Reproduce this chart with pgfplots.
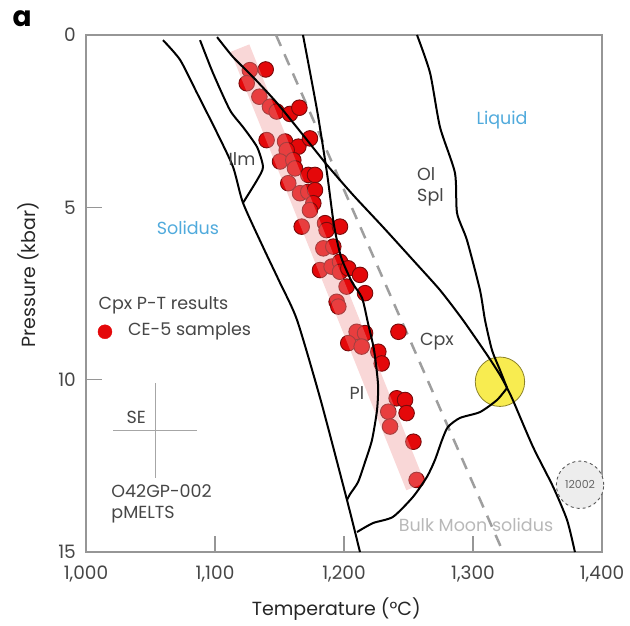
\documentclass[border=0pt]{standalone}
\usepackage{pgfplots}
\pgfplotsset{compat=1.18}
\usepackage{fontspec}
\setmainfont{Poppins}
\definecolor{axgray}{RGB}{150,150,150}
\definecolor{txtgray}{RGB}{70,70,70}
\definecolor{ptred}{RGB}{228,8,10}
\definecolor{ptedge}{RGB}{120,10,10}
\definecolor{bandpink}{RGB}{240,150,150}
\definecolor{lblue}{RGB}{80,170,220}
\definecolor{ylw}{RGB}{248,236,80}
\definecolor{ylwedge}{RGB}{140,130,40}
\begin{document}
\begin{tikzpicture}
\begin{axis}[
  scale only axis,
  width=516pt, height=517pt,
  xmin=1000, xmax=1400, ymin=0, ymax=15,
  y dir=reverse,
  clip=false,
  clip mode=individual,
  axis line style={axgray, line width=1.3pt},
  xtick={1000,1100,1200,1300,1400},
  xticklabels={{1,000},{1,100},{1,200},{1,300},{1,400}},
  ytick={0,5,10,15},
  yticklabels={0,5,10,15},
  tick pos=left,
  tick align=inside,
  major tick length=16pt,
  tick style={axgray, line width=1.2pt},
  ticklabel style={font=\fontsize{18.5}{22}\selectfont, text=txtgray, inner sep=0pt},
  xticklabel style={anchor=base, yshift=-27pt},
  yticklabel style={anchor=east, xshift=-10pt},
  xlabel={Temperature (°C)},
  ylabel={Pressure (kbar)},
  label style={font=\fontsize{19}{22}\selectfont, text=black!85},
  x label style={at={(axis description cs:0.485,-0.11)}, anchor=center},
  y label style={at={(axis description cs:-0.112,0.536)}, anchor=center},
]
% yellow circle
\addplot[only marks, mark=*, mark size=24.7pt, mark options={fill=ylw, draw=ylwedge, line width=0.8pt}] coordinates {(1320.9,10.06)};
% 12002 circle
\addplot[only marks, mark=*, mark size=23.7pt, mark options={fill=black!7, draw=black!65, dashed, line width=0.9pt}] coordinates {(1383,13.05)};
\node[font=\fontsize{11}{12}\selectfont, text=black!60] at (axis cs:1383,13.05) {12002};
% dashed bulk moon solidus
\addplot[color=black!38, line width=2.5pt, dash pattern=on 12pt off 9pt] coordinates {(1147.3,0) (1323.3,15)};
% SE cross
\addplot[draw=none, mark=none, color=black!35,
  error bars/.cd, x dir=both, y dir=both, x explicit, y explicit,
  error bar style={line width=1pt, black!35}, error mark=none]
  coordinates {(1053.5,11.47) +- (32.5,1.38)};
% points
\addplot[only marks, mark=*, mark size=7.8pt, mark options={fill=ptred, draw=ptedge, line width=0.9pt}] coordinates {
(1139.3,1.00) (1127.0,1.02) (1124.6,1.40) (1134.4,1.79) (1142.6,2.08) (1147.8,2.22)
(1158.1,2.29) (1165.4,2.11) (1140.0,3.05) (1154.3,3.09) (1164.6,3.24) (1173.6,3.00)
(1155.6,3.34) (1150.4,3.67) (1160.7,3.63) (1162.0,3.87) (1172.3,4.06) (1177.5,4.06)
(1156.8,4.30) (1165.9,4.59) (1172.3,4.55) (1177.5,4.50) (1176.2,4.88) (1173.6,5.08)
(1167.2,5.56) (1185.3,5.46) (1186.5,5.66) (1196.9,5.56) (1184.0,6.19) (1191.7,6.14)
(1181.4,6.82) (1190.4,6.72) (1196.9,6.58) (1196.9,6.87) (1203.3,6.77) (1212.4,6.96)
(1202.0,7.30) (1194.3,7.74) (1195.6,7.88) (1216.3,7.49) (1242.2,8.61) (1209.8,8.61)
(1216.3,8.65) (1203.3,8.94) (1213.7,9.04) (1226.6,9.19) (1229.2,9.53) (1240.8,10.54)
(1247.3,10.59) (1234.3,10.93) (1248.5,10.97) (1235.7,11.36) (1253.8,11.80) (1256.3,12.91)
};
% legend dot
\addplot[only marks, mark=*, mark size=7pt, mark options={fill=ptred, draw=ptred}] coordinates {(1014.7,8.61)};
% pink band
\addplot[color=bandpink, line width=20pt, opacity=0.38] coordinates {(1119.4,0.38) (1255.5,13.1)};
% black lines
\addplot[black, line width=2pt, smooth, tension=0.4] coordinates {
(1059.7,0.15) (1072.9,0.72) (1086.0,1.68) (1101.6,2.84) (1114.0,3.83) (1121.7,4.87)
(1137.2,6.15) (1150.4,7.19) (1163.6,8.27) (1181.9,10.59) (1202.3,13.49) (1212.4,15)};
\addplot[black, line width=2pt, smooth, tension=0.4] coordinates {
(1088.4,0.15) (1098.4,1.10) (1111.6,2.18) (1121.7,2.67) (1132.6,3.25) (1137.2,3.83) (1132.6,4.21) (1121.7,4.87)};
\addplot[black, line width=2pt, smooth, tension=0.4] coordinates {
(1101.6,0.06) (1114.0,0.64) (1129.5,1.22) (1148.0,1.97) (1168.2,2.90) (1186.8,3.77)
(1207.0,4.64) (1230.2,5.57) (1253.5,6.53) (1274.4,7.40) (1292.2,8.27) (1310.9,9.28)
(1320.9,9.86) (1326.4,10.24) (1331.0,10.60) (1346.5,11.95) (1362.0,13.10) (1372.9,14.07) (1379,15)};
\addplot[black, line width=2pt, smooth, tension=0.4] coordinates {
(1168.2,0) (1179.1,2.18) (1186.8,4.0) (1192.2,5.51) (1197.7,6.44) (1206.2,7.17)
(1214.0,7.63) (1218.6,8.36) (1223.3,9.14) (1226.4,10.15) (1225.6,10.88) (1221.7,11.75)
(1216.3,12.39) (1210.9,12.97) (1204.7,13.32) (1202.3,13.49)};
\addplot[black, line width=2pt, smooth, tension=0.4] coordinates {
(1256.6,0) (1266.7,1.10) (1274.4,2.67) (1286.0,4.0) (1287.6,5.16) (1295.3,5.95)
(1305.4,7.40) (1309.3,8.27) (1314.7,9.14) (1320.9,9.72) (1326.4,10.24)};
\addplot[black, line width=2pt, smooth, tension=0.4] coordinates {
(1326.4,10.24) (1318.6,10.59) (1305.4,10.94) (1289.9,11.11) (1280.6,11.37) (1276.0,11.75)
(1270.5,12.33) (1264.3,12.82) (1253.5,13.40) (1238.0,13.98) (1222.5,14.16) (1210.1,14.42)};
% labels
\node[font=\fontsize{17.5}{21}\selectfont, text=txtgray] at (axis cs:1120.9,3.6) {Ilm};
\node[font=\fontsize{17.5}{21}\selectfont, text=lblue] at (axis cs:1079,5.6) {Solidus};
\node[font=\fontsize{17.5}{21}\selectfont, text=lblue] at (axis cs:1322.5,2.47) {Liquid};
\node[font=\fontsize{17.5}{21}\selectfont, text=txtgray, align=left] at (axis cs:1267,4.4) {Ol\\Spl};
\node[font=\fontsize{17.5}{21}\selectfont, text=txtgray] at (axis cs:1272,8.9) {Cpx};
\node[font=\fontsize{17.5}{21}\selectfont, text=txtgray] at (axis cs:1210,10.39) {Pl};
\node[font=\fontsize{17.5}{21}\selectfont, text=txtgray, anchor=west] at (axis cs:1007,7.83) {Cpx P-T results};
\node[font=\fontsize{17.5}{21}\selectfont, text=txtgray, anchor=west] at (axis cs:1030,8.61) {CE-5 samples};
\node[font=\fontsize{17.5}{21}\selectfont, text=txtgray] at (axis cs:1039,11.1) {SE};
\node[font=\fontsize{17.5}{21}\selectfont, text=txtgray, align=left, anchor=north west] at (axis cs:1017,12.95) {O42GP-002\\pMELTS};
\node[font=\fontsize{17.5}{21}\selectfont, text=black!28] at (axis cs:1302.3,14.22) {Bulk Moon solidus};
\node[font=\fontsize{28}{30}\bfseries\selectfont] at (rel axis cs:-0.124,1.031) {a};
\end{axis}
\pgfresetboundingbox
\path[use as bounding box] ([xshift=-86pt,yshift=-73pt]current axis.south west) rectangle ([xshift=28pt,yshift=35pt]current axis.north east);
\end{tikzpicture}
\end{document}
